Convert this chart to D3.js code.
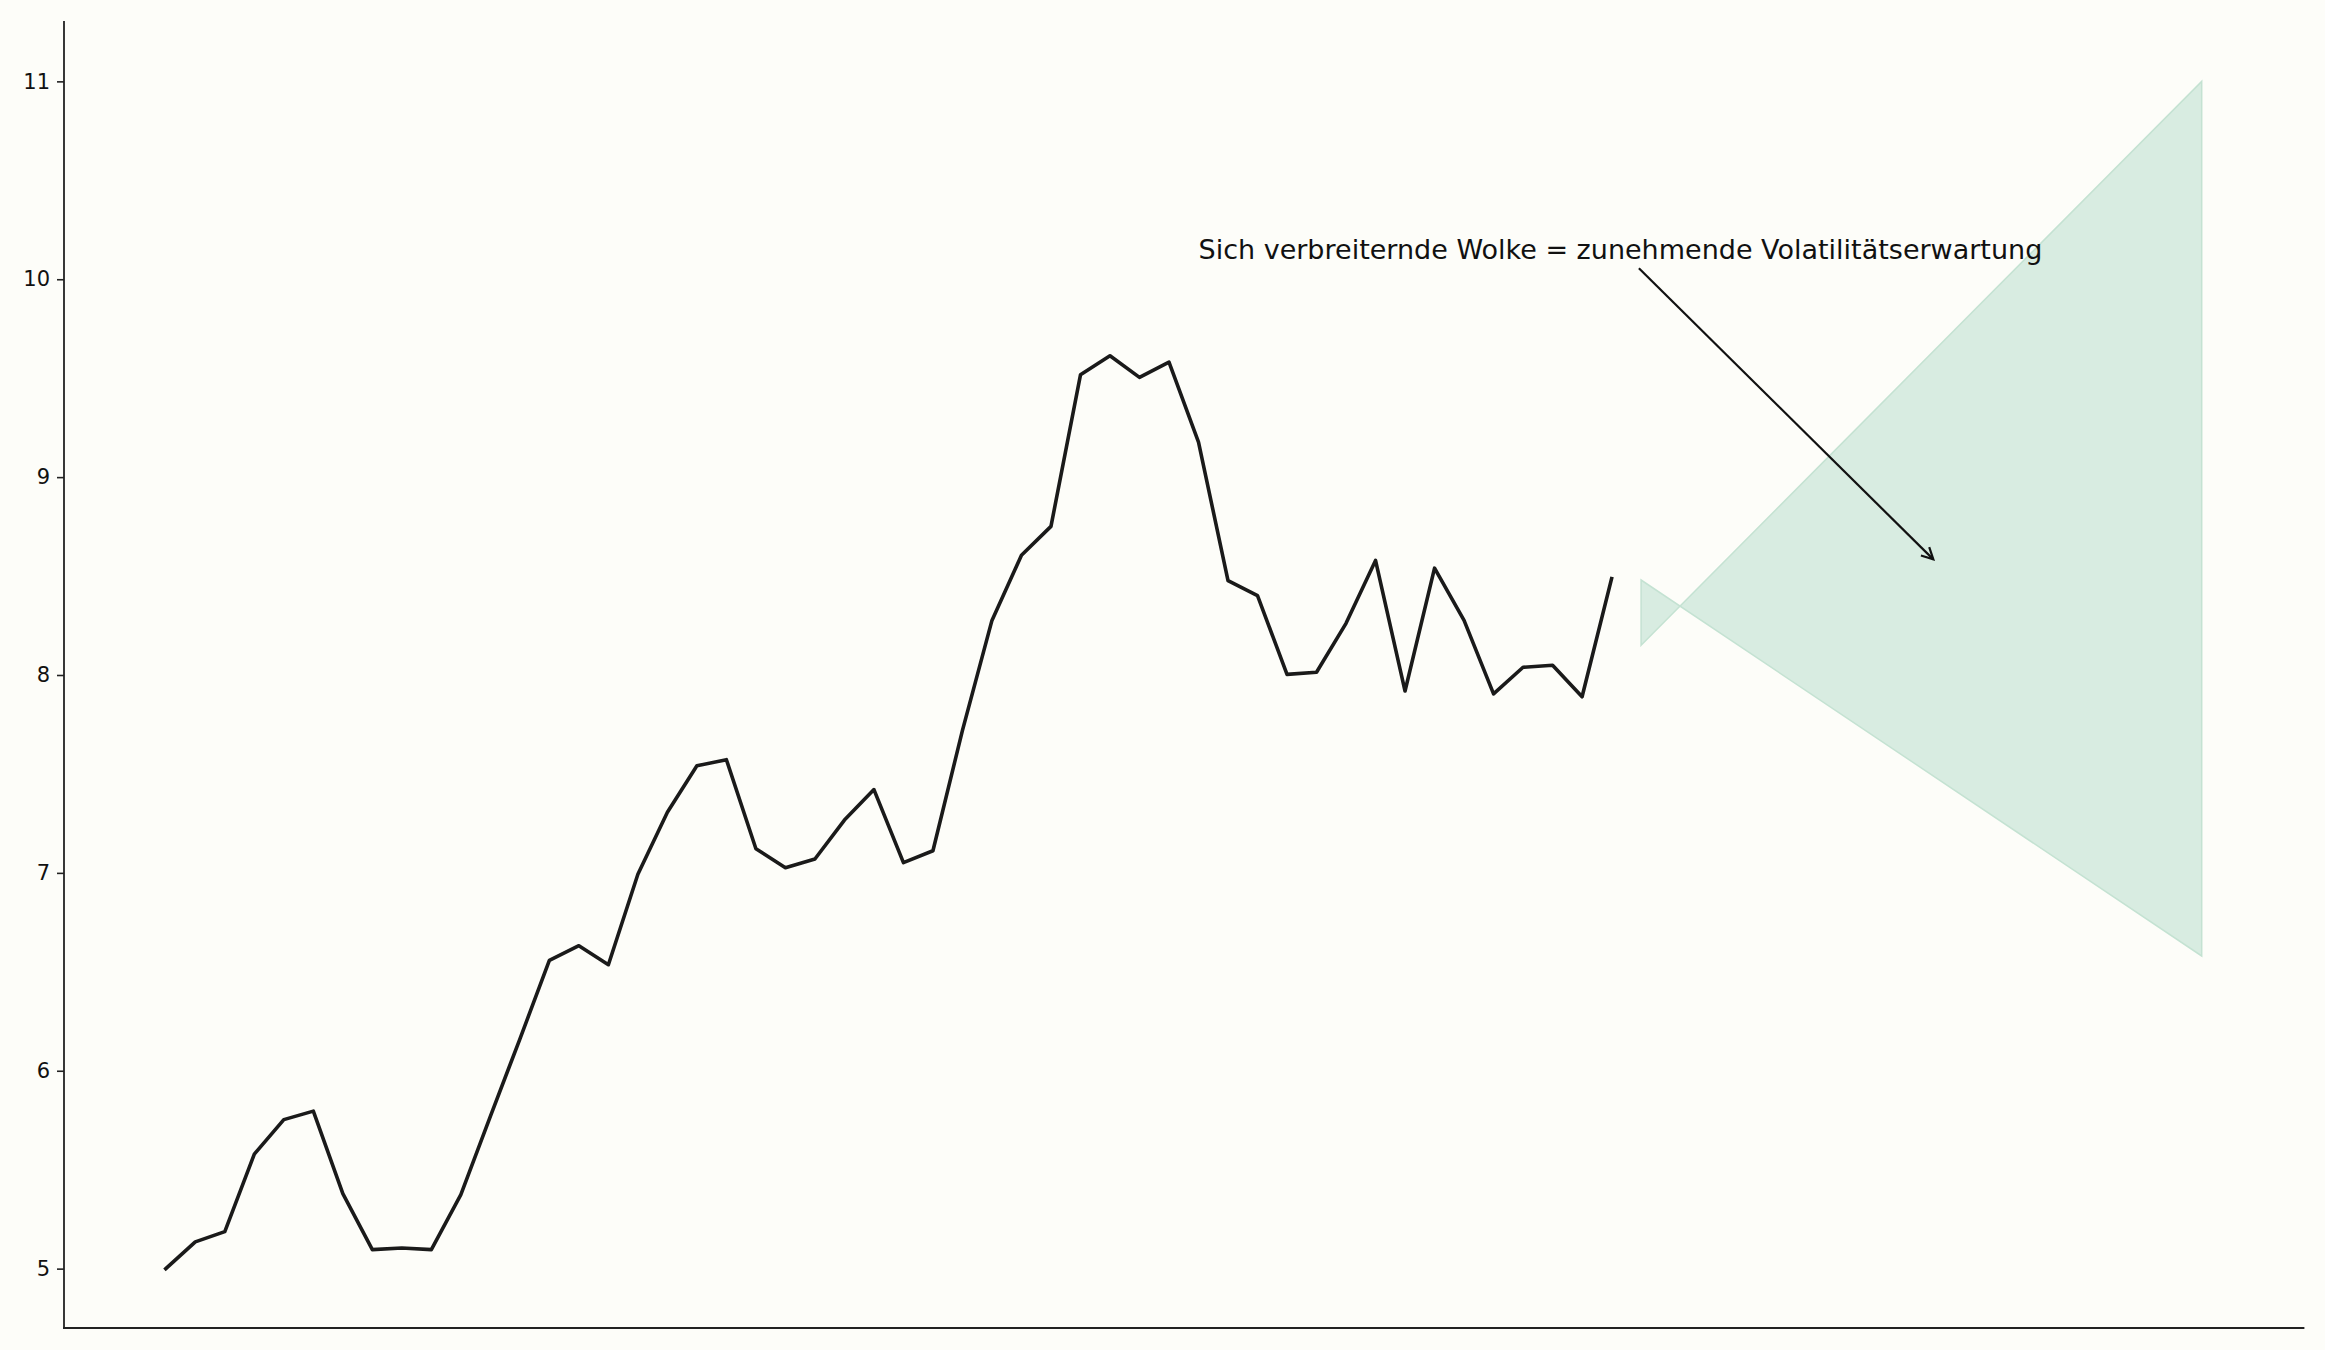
<!DOCTYPE html>
<html>
<head>
<meta charset="utf-8">
<script src="https://cdn.jsdelivr.net/npm/d3@7"></script>
<style>
  html, body { margin: 0; padding: 0; background: #fdfdf9; }
  svg { display: block; }
</style>
</head>
<body>
<svg id="chart"></svg>
<script>
// ---- data ----
const seriesValues = [
  5.00, 5.135, 5.187, 5.579, 5.753, 5.796, 5.379, 5.096, 5.104, 5.096,
  5.374, 5.77, 6.16, 6.558, 6.632, 6.536, 6.993, 7.306, 7.541, 7.572,
  7.122, 7.026, 7.070, 7.267, 7.421, 7.052, 7.112, 7.72, 8.276, 8.605,
  8.751, 9.517, 9.613, 9.504, 9.581, 9.177, 8.477, 8.401, 8.003, 8.014,
  8.261, 8.579, 7.919, 8.540, 8.276, 7.905, 8.039, 8.049, 7.890, 8.487
];
const cloudX = [50, 69];
const cloudEdgeA = [8.48, 6.58];
const cloudEdgeB = [8.15, 11.0];
const yTicks = [5, 6, 7, 8, 9, 10, 11];
const annotationText = "Sich verbreiternde Wolke = zunehmende Volatilitätserwartung";
const annotationTextPos = [35, 10.1];
const annotationTip = [60, 8.57];

// ---- layout ----
const W = 2325, H = 1350;
const plot = { left: 64, right: 2303.5, top: 22, bottom: 1328 };

const svg = d3.select("#chart").attr("width", W).attr("height", H);
svg.append("rect").attr("width", W).attr("height", H).attr("fill", "#fdfdf9");

const x = d3.scaleLinear().domain([-3.45, 72.45]).range([plot.left, plot.right]);
const y = d3.scaleLinear().domain([4.7, 11.3]).range([plot.bottom, plot.top]);

// cloud
const cloudData = cloudX.map((d, i) => ({ x: d, a: cloudEdgeA[i], b: cloudEdgeB[i] }));
const area = d3.area().x(d => x(d.x)).y0(d => y(d.a)).y1(d => y(d.b));
svg.append("path")
  .datum(cloudData)
  .attr("d", area)
  .attr("fill", "#d8ece1")
  .attr("stroke", "#c4e2d2")
  .attr("stroke-width", 1.5);

// series line
const line = d3.line().x((d, i) => x(i)).y(d => y(d));
svg.append("path")
  .datum(seriesValues)
  .attr("d", line)
  .attr("fill", "none")
  .attr("stroke", "#1a1a1a")
  .attr("stroke-width", 3.6)
  .attr("stroke-linejoin", "round")
  .attr("stroke-linecap", "square");

// y axis
const yAxis = d3.axisLeft(y).tickValues(yTicks).tickSize(7).tickPadding(7).tickFormat(d3.format("d"));
const gy = svg.append("g").attr("transform", `translate(${plot.left},0)`).call(yAxis);
gy.select(".domain").remove();
gy.selectAll(".tick line").attr("stroke", "#222").attr("stroke-width", 1.6);
gy.selectAll(".tick text")
  .attr("fill", "#111")
  .style("font-family", "'DejaVu Sans', sans-serif")
  .style("font-size", "21px");

// spines
svg.append("line").attr("x1", plot.left).attr("x2", plot.left).attr("y1", plot.top).attr("y2", plot.bottom)
  .attr("stroke", "#222").attr("stroke-width", 1.8).attr("stroke-linecap", "square");
svg.append("line").attr("x1", plot.left).attr("x2", plot.right).attr("y1", plot.bottom).attr("y2", plot.bottom)
  .attr("stroke", "#222").attr("stroke-width", 1.8).attr("stroke-linecap", "square");

// annotation
const txt = svg.append("text")
  .attr("x", x(annotationTextPos[0]))
  .attr("y", y(annotationTextPos[1]))
  .attr("fill", "#111")
  .style("font-family", "'DejaVu Sans', sans-serif")
  .style("font-size", "27px")
  .text(annotationText);

const bb = txt.node().getBBox();
const cx = bb.x + bb.width / 2, cy = bb.y + bb.height / 2;
const tx = x(annotationTip[0]), ty = y(annotationTip[1]);
const dx = tx - cx, dy = ty - cy;
const len = Math.hypot(dx, dy);
const ux = dx / len, uy = dy / len;
// clip at text bbox
let t = Infinity;
if (ux !== 0) t = Math.min(t, (ux > 0 ? bb.x + bb.width - cx : bb.x - cx) / ux);
if (uy !== 0) t = Math.min(t, (uy > 0 ? bb.y + bb.height - cy : bb.y - cy) / uy);
const shrink = 4;
const sx = cx + ux * (t + shrink), sy = cy + uy * (t + shrink);
const ex = tx - ux * shrink, ey = ty - uy * shrink;
svg.append("line").attr("x1", sx).attr("y1", sy).attr("x2", ex).attr("y2", ey)
  .attr("stroke", "#111").attr("stroke-width", 2.2);
const headLen = 13, ang = 27 * Math.PI / 180;
const baseAng = Math.atan2(uy, ux);
const p1 = [ex - headLen * Math.cos(baseAng - ang), ey - headLen * Math.sin(baseAng - ang)];
const p2 = [ex - headLen * Math.cos(baseAng + ang), ey - headLen * Math.sin(baseAng + ang)];
svg.append("path")
  .attr("d", `M${p1[0]},${p1[1]}L${ex},${ey}L${p2[0]},${p2[1]}`)
  .attr("fill", "none").attr("stroke", "#111").attr("stroke-width", 2.2)
  .attr("stroke-linejoin", "miter");
</script>
</body>
</html>
